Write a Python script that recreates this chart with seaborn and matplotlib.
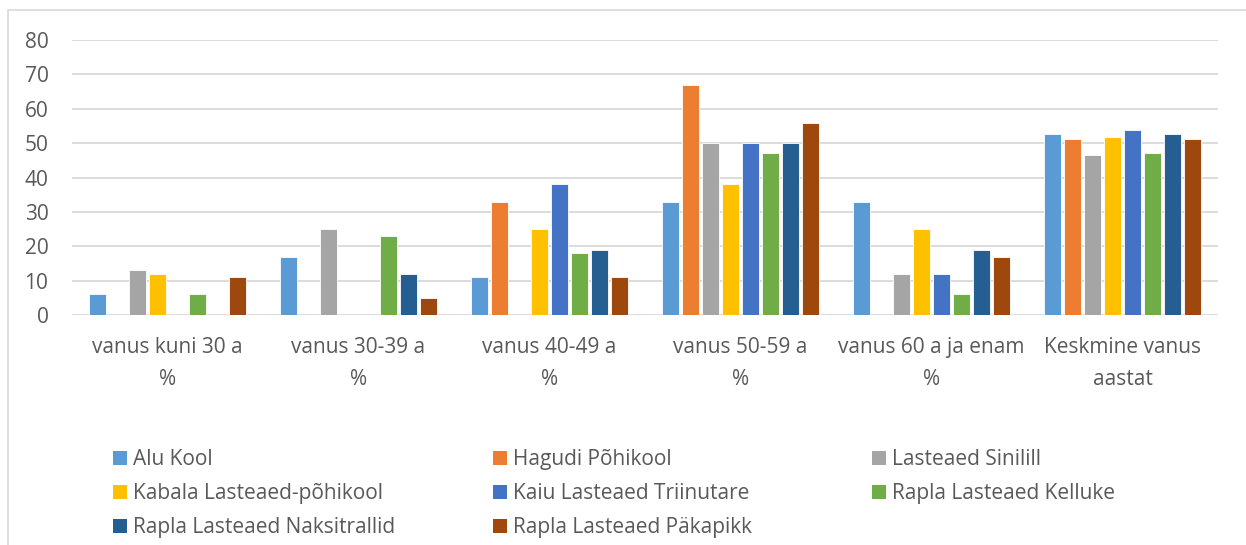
import matplotlib
matplotlib.use("Agg")
import matplotlib.pyplot as plt
from matplotlib.patches import Rectangle
import pandas as pd
import seaborn as sns

# ------------------------------------------------------------
# ANDMED
# ------------------------------------------------------------
kategooriad = [
    "vanus kuni 30 a\n%",
    "vanus 30-39 a\n%",
    "vanus 40-49 a\n%",
    "vanus 50-59 a\n%",
    "vanus 60 a ja enam\n%",
    "Keskmine vanus\naastat",
]

alu_kool        = [6, 17, 11, 33, 33, 52.6]
hagudi          = [0, 0, 33, 67, 0, 51.3]
sinilill        = [13, 25, 0, 50, 12, 46.5]
kabala          = [12, 0, 25, 38, 25, 51.7]
kaiu            = [0, 0, 38, 50, 12, 53.9]
kelluke         = [6, 23, 18, 47, 6, 47.1]
naksitrallid    = [0, 12, 19, 50, 19, 52.6]
pakapikk        = [11, 5, 11, 56, 17, 51.2]

koolid = [
    "Alu Kool",
    "Hagudi Põhikool",
    "Lasteaed Sinilill",
    "Kabala Lasteaed-põhikool",
    "Kaiu Lasteaed Triinutare",
    "Rapla Lasteaed Kelluke",
    "Rapla Lasteaed Naksitrallid",
    "Rapla Lasteaed Päkapikk",
]
vaartused = [alu_kool, hagudi, sinilill, kabala, kaiu, kelluke, naksitrallid, pakapikk]

varvid = ["#5B9BD5", "#ED7D31", "#A5A5A5", "#FFC000",
          "#4472C4", "#70AD47", "#255E91", "#9E480E"]

# pikk formaat seaborn jaoks
read = []
for kool, vals in zip(koolid, vaartused):
    for kat, v in zip(kategooriad, vals):
        read.append({"kategooria": kat, "kool": kool, "vaartus": v})
df = pd.DataFrame(read)

# ------------------------------------------------------------
# JOONIS
# ------------------------------------------------------------
sns.set_style("white")
plt.rcParams["font.family"] = ["Open Sans", "DejaVu Sans"]

TEKST = "#595959"
RUUDUSTIK = "#D9D9D9"
FS = 15

fig = plt.figure(figsize=(12.46, 5.45), dpi=100)
ax = fig.add_axes([72 / 1246, 230 / 545, (1218 - 72) / 1246, 275 / 545])

sns.barplot(
    data=df, x="kategooria", y="vaartus", hue="kool",
    order=kategooriad, hue_order=koolid, palette=varvid,
    width=0.84, gap=0.18, edgecolor="white", linewidth=0.6,
    saturation=1, ax=ax, legend=False,
)

ax.set_ylim(0, 80)
ax.set_yticks(range(0, 81, 10))
ax.set_xlim(-0.5, len(kategooriad) - 0.5)
ax.yaxis.grid(True, color=RUUDUSTIK, linewidth=1.3)
ax.set_axisbelow(True)
for s in ax.spines.values():
    s.set_visible(False)

ax.set_xlabel("")
ax.set_ylabel("")
ax.tick_params(axis="both", length=0, labelsize=FS, colors=TEKST)
ax.tick_params(axis="x", pad=16)
ax.tick_params(axis="y", pad=17)
for lbl in ax.get_xticklabels():
    lbl.set_linespacing(1.68)

# diagrammi raam
fig.patches.append(Rectangle((8 / 1246, -0.05), 1.2, 0.05 + 535 / 545,
                             transform=fig.transFigure, fill=False,
                             edgecolor=RUUDUSTIK, linewidth=1.2))

# legend - kolm veergu
kasted = [plt.Rectangle((0, 0), 1, 1, facecolor=c, edgecolor="none") for c in varvid]
veerud = [[0, 3, 6], [1, 4, 7], [2, 5]]
veeru_x = [113 / 1246, 493 / 1246, 872 / 1246]
for idx, x in zip(veerud, veeru_x):
    leg = fig.legend(
        [kasted[i] for i in idx], [koolid[i] for i in idx],
        loc="upper left", bbox_to_anchor=(x, 1 - 449 / 545),
        frameon=False, fontsize=FS, handlelength=0.67, handleheight=0.67,
        handletextpad=0.3, labelspacing=0.63, borderpad=0, borderaxespad=0,
    )
    for t in leg.get_texts():
        t.set_color(TEKST)

fig.savefig("out.png", dpi=100)
